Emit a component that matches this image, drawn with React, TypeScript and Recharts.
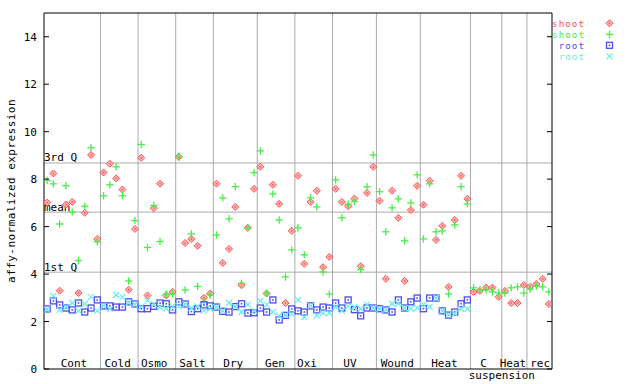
import React from 'react';
import { ScatterChart, Scatter, XAxis, YAxis, ReferenceLine, Legend } from 'recharts';

const FONT = '"DejaVu Sans Mono", "Liberation Mono", monospace';

// shoot (red diamonds)
const shootA = [
  7.01, 8.24, 3.30, 6.93, 7.04, 3.20, 6.58, 9.02, 5.48,
  8.28, 8.65, 8.03, 7.56, 3.34, 5.90,
  8.90, 3.10, 6.77, 7.81, 3.10, 3.25,
  8.94, 5.31, 5.48, 5.19, 3.00, 3.18,
  7.81, 4.47, 5.06, 6.83, 3.53, 5.95, 7.59,
  8.52, 3.18, 7.76, 6.96, 2.78, 5.82,
  8.14, 4.43, 7.04, 7.51, 4.29, 4.72,
  7.59, 7.04, 6.86, 7.18, 4.33, 7.42, 8.52,
  7.09, 3.80, 7.51, 6.37, 3.71, 6.70, 7.72,
  6.92, 7.93, 5.44, 6.03, 3.46, 6.28, 8.14, 7.17,
  3.25, 3.29, 3.43, 3.43, 3.04,
  3.29, 2.78, 2.78, 3.54,
  3.46, 3.58, 3.80, 2.74,
];
// shoot (green plus)
const shootB = [
  7.94, 7.80, 6.11, 7.72, 6.62, 4.57, 6.86, 9.32, 5.36,
  7.30, 7.76, 8.52, 7.30, 3.71, 6.25,
  9.46, 5.12, 6.89, 5.37, 3.16, 3.16,
  8.92, 3.33, 5.69, 3.48, 2.85, 3.12,
  5.65, 7.21, 6.33, 7.68, 3.61, 5.95, 8.27,
  9.19, 3.20, 7.38, 6.28, 3.88, 5.02,
  5.95, 4.81, 7.21, 6.83, 4.09, 3.16,
  7.97, 6.37, 6.94, 7.06, 4.19, 7.68, 9.02,
  7.47, 5.78, 6.79, 7.17, 5.40, 7.00, 8.18,
  5.48, 7.80, 5.78, 5.82, 3.16, 6.07, 7.68, 6.96,
  3.42, 3.33, 3.33, 3.25, 3.20,
  3.20, 3.42, 3.46, 3.20,
  3.37, 3.50, 3.46, 3.25,
];
// root (blue squares)
const rootA = [
  2.53, 2.87, 2.70, 2.57, 2.49, 2.78, 2.40, 2.57, 2.91,
  2.66, 2.66, 2.61, 2.61, 2.83, 2.74,
  2.54, 2.54, 2.64, 2.78, 2.75, 2.49,
  2.83, 2.74, 2.42, 2.54, 2.70, 2.66,
  2.61, 2.43, 2.40, 2.63, 2.75, 2.36, 2.37,
  2.57, 2.40, 2.91, 2.07, 2.26, 2.53,
  2.45, 2.40, 2.66, 2.49, 2.61, 2.57,
  2.78, 2.57, 2.91, 2.50, 2.24, 2.57, 2.57,
  2.54, 2.49, 2.40, 2.91, 2.57, 2.83, 2.99,
  2.54, 2.99, 2.99, 2.45, 2.27, 2.40, 2.75, 2.91,
];
// root (cyan x)
const rootB = [
  2.50, 3.08, 2.49, 2.61, 2.78, 2.45, 2.74, 3.04, 2.45,
  2.66, 2.52, 3.12, 3.04, 2.80, 2.72,
  2.62, 2.88, 2.72, 2.60, 2.55, 2.65,
  2.65, 2.72, 2.57, 2.64, 2.46, 2.55,
  2.60, 2.45, 2.78, 2.63, 2.40, 2.71, 2.45,
  2.87, 2.71, 2.40, 2.25, 2.27, 2.32,
  2.91, 2.19, 2.66, 2.25, 2.36, 2.36,
  2.60, 2.45, 2.64, 2.60, 2.54, 2.71, 2.57,
  2.54, 2.49, 2.75, 2.75, 2.57, 2.54, 2.57,
  2.71, 2.62, 2.99, 2.45, 2.29, 2.34, 2.54, 2.54,
];

const seriesNames = ['shoot', 'shoot', 'root', 'root'];
const seriesColors = ['#ff5050', '#48ee48', '#4c4cf0', '#66eeee'];

const groupLabels = ['Cont', 'Cold', 'Osmo', 'Salt', 'Dry', 'Gen', 'Oxi', 'UV', 'Wound', 'Heat', 'C', 'Heat', 'rec'];
const groupLabelAt = [4.78, 11.74, 17.57, 23.67, 30.18, 36.83, 41.93, 48.79, 56.33, 63.85, 70.1, 74.78, 79.1];
const groupEdges = [9, 15, 21, 27, 34, 40, 46, 53, 60, 68, 73, 77];
const subLabel = 'suspension';
const subLabelAt = 73.0;
const xMax = 81;

const yTicks = [0, 2, 4, 6, 8, 10, 12, 14];
const yMax = 15;
const statNames = ['3rd Q', 'mean', '1st Q'];
const statValues = [8.68, 6.61, 4.08];

const toPoints = (vals: number[]) => vals.map((y, i) => ({ x: i + 0.5, y }));

const Diamond = (color: string) => (p: any) => {
  const { cx, cy } = p;
  if (cx == null || cy == null) return <g />;
  const r = 3.5;
  return (
    <g>
      <polygon
        points={`${cx},${cy - r} ${cx + r},${cy} ${cx},${cy + r} ${cx - r},${cy}`}
        fill="#ffb4b4"
        stroke={color}
        strokeWidth={1}
      />
      <rect x={cx - 0.75} y={cy - 0.75} width={1.5} height={1.5} fill={color} />
    </g>
  );
};

const Plus = (color: string) => (p: any) => {
  const { cx, cy } = p;
  if (cx == null || cy == null) return <g />;
  const r = 3.7;
  return (
    <g stroke={color} strokeWidth={1.3}>
      <line x1={cx - r} x2={cx + r} y1={cy} y2={cy} />
      <line x1={cx} x2={cx} y1={cy - r} y2={cy + r} />
    </g>
  );
};

const Square = (color: string) => (p: any) => {
  const { cx, cy } = p;
  if (cx == null || cy == null) return <g />;
  const r = 3;
  return (
    <g>
      <rect x={cx - r} y={cy - r} width={2 * r} height={2 * r} fill="none" stroke={color} strokeWidth={1.3} />
      <rect x={cx - 0.8} y={cy - 0.8} width={1.6} height={1.6} fill={color} />
    </g>
  );
};

const Cross = (color: string) => (p: any) => {
  const { cx, cy } = p;
  if (cx == null || cy == null) return <g />;
  const r = 3;
  return (
    <g stroke={color} strokeWidth={1.2}>
      <line x1={cx - r} x2={cx + r} y1={cy - r} y2={cy + r} />
      <line x1={cx - r} x2={cx + r} y1={cy + r} y2={cy - r} />
    </g>
  );
};

const shapeMakers = [Diamond, Plus, Square, Cross];

const LeftTick = (p: any) => (
  <g>
    <line x1={p.x} x2={p.x + 5} y1={p.y} y2={p.y} stroke="#000" />
    <text x={p.x - 7} y={p.y} dy={4} textAnchor="end" fontSize={11} fontFamily={FONT} fill="#000">
      {p.payload.value}
    </text>
  </g>
);

const RightTick = (p: any) => (
  <g>
    <line x1={p.x - 5} x2={p.x} y1={p.y} y2={p.y} stroke="#000" />
  </g>
);

const BottomTick = (p: any) => {
  const v = p.payload.value;
  if (v === subLabelAt) {
    return (
      <text x={p.x} y={p.y + 10} textAnchor="middle" fontSize={11} fontFamily={FONT} fill="#000">
        {subLabel}
      </text>
    );
  }
  const idx = groupLabelAt.indexOf(v);
  return (
    <text x={p.x} y={p.y - 2} textAnchor="middle" fontSize={11} fontFamily={FONT} fill="#000">
      {idx >= 0 ? groupLabels[idx] : ''}
    </text>
  );
};

const statLabel = (name: string) => (props: any) => {
  const vb = props.viewBox || {};
  return (
    <text x={vb.x} y={vb.y - 1.5} fontSize={11} fontFamily={FONT} fill="#000">
      {name}
    </text>
  );
};

const yLabel = (props: any) => {
  const vb = props.viewBox || {};
  const cy = vb.y + vb.height / 2;
  return (
    <text
      transform={`translate(15, ${cy}) rotate(-90)`}
      textAnchor="middle"
      fontSize={11}
      fontFamily={FONT}
      letterSpacing={0.45}
      fill="#000"
    >
      affy-normalized expression
    </text>
  );
};

const LegendBox = () => (
  <svg width={100} height={50} style={{ display: 'block', overflow: 'visible' }}>
    {seriesNames.map((n, i) => {
      const cy = 8.3 + i * 11;
      const Shape = shapeMakers[i](seriesColors[i]);
      return (
        <g key={i}>
          <text
            x={45}
            y={cy + 3.5}
            textAnchor="end"
            fontSize={9.2}
            letterSpacing={1.05}
            fontFamily={FONT}
            fill={seriesColors[i]}
          >
            {n}
          </text>
          <Shape cx={69.5} cy={cy} />
        </g>
      );
    })}
  </svg>
);

const seriesData = [shootA, shootB, rootA, rootB];

export default function App() {
  return (
    <div style={{ position: 'absolute', left: 0, top: 0, width: 640, height: 384, background: '#fff' }}>
      <ScatterChart width={640} height={384} margin={{ top: 13, right: 0, bottom: 0, left: 0 }}>
        <XAxis
          type="number"
          dataKey="x"
          domain={[0, xMax]}
          allowDataOverflow
          ticks={[...groupLabelAt, subLabelAt]}
          interval={0}
          tickSize={0}
          tickMargin={0}
          tickLine={false}
          tick={BottomTick}
          axisLine={{ stroke: '#000' }}
          height={15}
        />
        <YAxis
          type="number"
          dataKey="y"
          domain={[0, yMax]}
          allowDataOverflow
          ticks={yTicks}
          interval={0}
          width={44}
          tickSize={0}
          tickMargin={0}
          tickLine={false}
          tick={LeftTick}
          axisLine={{ stroke: '#000' }}
          label={yLabel}
        />
        <YAxis
          yAxisId="right"
          orientation="right"
          type="number"
          domain={[0, yMax]}
          allowDataOverflow
          ticks={yTicks}
          interval={0}
          width={88}
          tickSize={0}
          tickMargin={0}
          tickLine={false}
          tick={RightTick}
          axisLine={{ stroke: '#000' }}
        />
        {groupEdges.map((e) => (
          <ReferenceLine key={'e' + e} x={e} stroke="#aaaaaa" strokeWidth={1} />
        ))}
        {statValues.map((v, i) => (
          <ReferenceLine key={'s' + i} y={v} stroke="#aaaaaa" strokeWidth={1} label={statLabel(statNames[i])} />
        ))}
        <ReferenceLine y={yMax} stroke="#000" strokeWidth={1} />
        {seriesData.map((vals, i) => (
          <Scatter
            key={i}
            name={seriesNames[i]}
            data={toPoints(vals)}
            fill={seriesColors[i]}
            shape={shapeMakers[i](seriesColors[i])}
            isAnimationActive={false}
          />
        ))}
        <Legend
          layout="vertical"
          align="center"
          verticalAlign="middle"
          wrapperStyle={{ left: 540, top: 15, width: 100, height: 50 }}
          content={() => <LegendBox />}
        />
      </ScatterChart>
    </div>
  );
}
